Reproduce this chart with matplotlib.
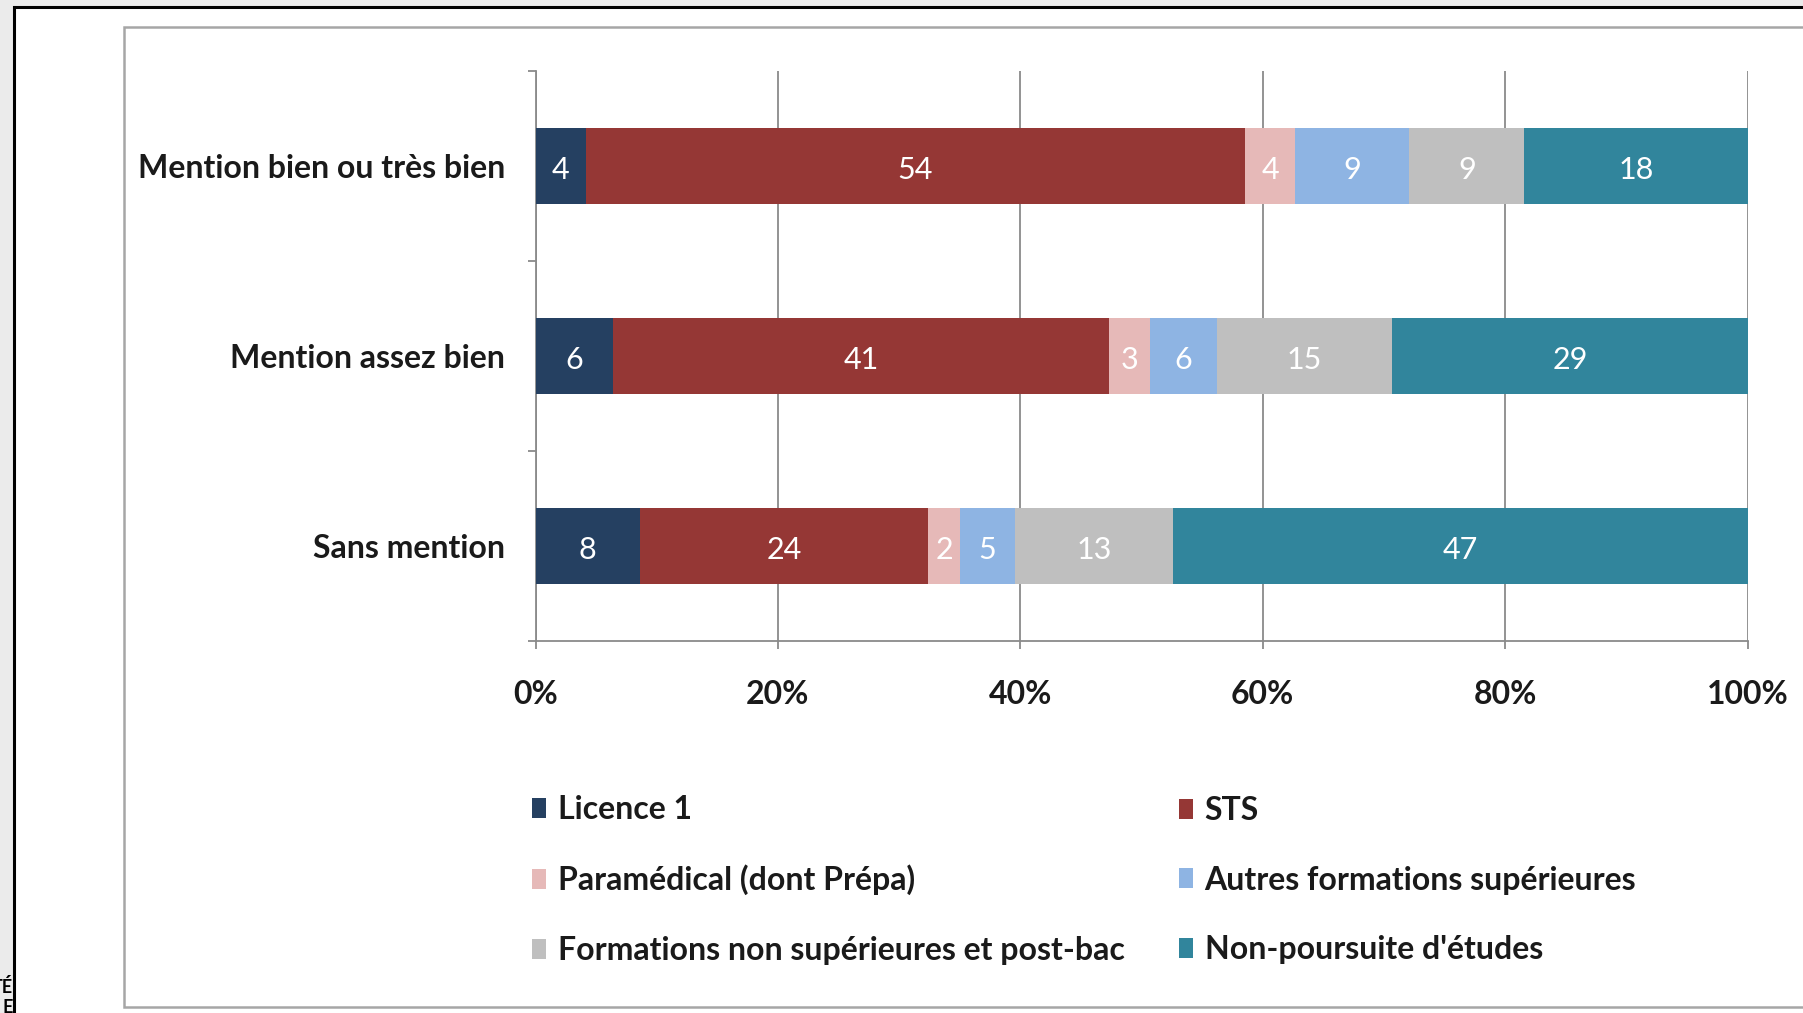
import matplotlib
matplotlib.use("Agg")
import matplotlib.pyplot as plt
from matplotlib.patches import Rectangle
from matplotlib.ticker import FuncFormatter
import numpy as np

plt.rcParams['font.family'] = ['Lato', 'DejaVu Sans']

# ---- data ----
categories = ["Mention bien ou très bien", "Mention assez bien", "Sans mention"]
series_names = ["Licence 1", "STS", "Paramédical (dont Prépa)",
                "Autres formations supérieures",
                "Formations non supérieures et post-bac",
                "Non-poursuite d'études"]
# segment widths (% of each bar)
licence1 = [4.2, 6.4, 8.6]
sts = [54.3, 40.9, 23.8]
paramedical = [4.2, 3.4, 2.6]
autres_sup = [9.4, 5.5, 4.6]
non_sup = [9.5, 14.5, 13.0]
non_poursuite = [18.4, 29.3, 47.4]
# printed labels
lab_licence1 = ["4", "6", "8"]
lab_sts = ["54", "41", "24"]
lab_paramedical = ["4", "3", "2"]
lab_autres_sup = ["9", "6", "5"]
lab_non_sup = ["9", "15", "13"]
lab_non_poursuite = ["18", "29", "47"]
x_ticks = [0, 20, 40, 60, 80, 100]

series = [licence1, sts, paramedical, autres_sup, non_sup, non_poursuite]
labels = [lab_licence1, lab_sts, lab_paramedical, lab_autres_sup, lab_non_sup, lab_non_poursuite]
colors = ["#254061", "#953735", "#E6B9B8", "#8EB4E3", "#BFBFBF", "#31859C"]

W, H = 1803, 1013
fig = plt.figure(figsize=(W / 100, H / 100), dpi=100)
fig.patch.set_facecolor("#ebebeb")

# outer black frame (white inside)
fig.patches.append(Rectangle((14 / W, -0.2), 1.5, (H - 7) / H + 0.2,
                             transform=fig.transFigure, facecolor="white",
                             edgecolor="black", lw=2.2, zorder=1))
# chart area border
fig.patches.append(Rectangle((124 / W, 6 / H), 1.5, (986 - 6) / H,
                             transform=fig.transFigure, facecolor="white",
                             edgecolor="#a6a6a6", lw=1.8, zorder=2))
# cut-off text fragments at the left edge
fig.text(13 / W, 1 - 987 / H, "TÉ", ha="right", va="center",
         fontsize=13, fontweight="bold", color="black", zorder=0)
fig.text(13 / W, 1 - 1007 / H, "E", ha="right", va="center",
         fontsize=13, fontweight="bold", color="black", zorder=0)

ax = fig.add_axes([535.5 / W, 1 - 641 / H, (1747.5 - 535.5) / W, (641 - 71) / H])
ax.set_facecolor("none")
ax.set_zorder(3)

y = np.arange(len(categories))
left = np.zeros(len(categories))
containers = []
for vals, labs, col, name in zip(series, labels, colors, series_names):
    c = ax.barh(y, vals, left=left, height=0.4, color=col, label=name, zorder=3)
    texts = ax.bar_label(c, labels=labs, label_type="center", color="white",
                         fontsize=22, zorder=4)
    for t in texts:
        t.xyann = (0, -3.0)
    containers.append(c)
    left = left + np.array(vals)

ax.set_xlim(0, 100)
ax.set_ylim(2.5, -0.5)
ax.set_xticks(x_ticks)
ax.xaxis.set_major_formatter(FuncFormatter(lambda v, p: f"{int(v)}%"))
ax.set_yticks(y)
ax.set_yticklabels(categories)
ax.set_yticks([-0.5, 0.5, 1.5, 2.5], minor=True)

gcol = "#8a8a8a"
ax.tick_params(axis="y", which="major", length=0, pad=22, labelsize=23)
ax.tick_params(axis="y", which="minor", length=6, width=1.3, color=gcol)
ax.tick_params(axis="x", which="major", length=6, width=1.3, color=gcol,
               pad=22, labelsize=23)
for t in ax.get_xticklabels() + ax.get_yticklabels():
    t.set_fontweight("bold")
    t.set_color("#1a1a1a")

for s in ["top", "right"]:
    ax.spines[s].set_visible(False)
for s in ["left", "bottom"]:
    ax.spines[s].set_color(gcol)
    ax.spines[s].set_linewidth(1.3)
ax.xaxis.grid(True, color=gcol, lw=1.3, zorder=0)
ax.set_axisbelow(True)

# legend: two columns, row-major order as in the original
leg_kw = dict(frameon=False, handlelength=0.45, handleheight=0.6,
              handletextpad=0.35, labelspacing=1.27, borderpad=0, borderaxespad=0,
              loc="center left", prop={"weight": "bold", "size": 23})
leg1 = fig.legend([containers[i] for i in (0, 2, 4)],
                  [series_names[i] for i in (0, 2, 4)],
                  bbox_to_anchor=(532 / W, 1 - 880 / H), **leg_kw)
leg2 = fig.legend([containers[i] for i in (1, 3, 5)],
                  [series_names[i] for i in (1, 3, 5)],
                  bbox_to_anchor=(1179 / W, 1 - 880 / H), **leg_kw)
for lg in (leg1, leg2):
    lg.set_zorder(5)
    for t in lg.get_texts():
        t.set_color("#1a1a1a")

fig.savefig("out.png", dpi=100, facecolor=fig.get_facecolor())
